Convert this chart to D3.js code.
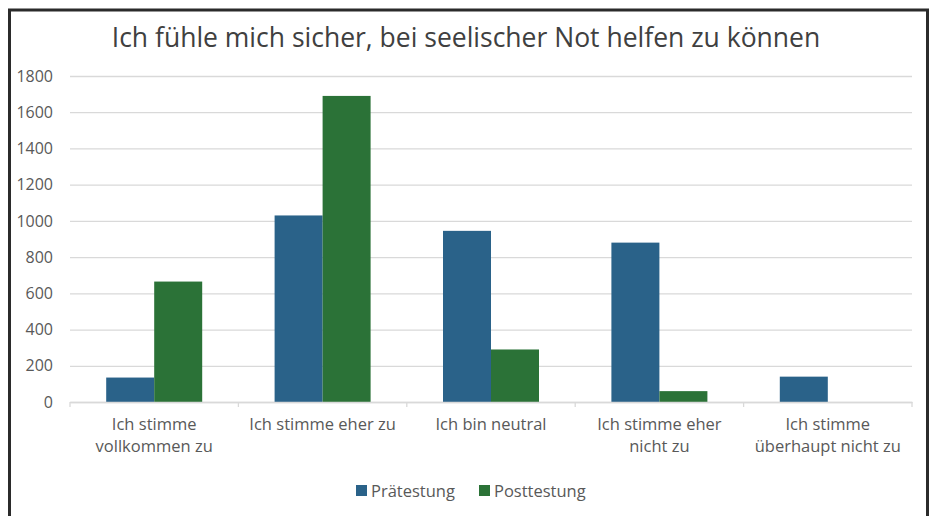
<!DOCTYPE html>
<html>
<head>
<meta charset="utf-8">
<script src="https://cdn.jsdelivr.net/npm/d3@7"></script>
<style>
  body { margin: 0; background: #fff; }
  text { font-family: "Open Sans", sans-serif; }
</style>
</head>
<body>
<div id="container"></div>
<script>
// data
const title = "Ich fühle mich sicher, bei seelischer Not helfen zu können";
const categories = [
  "Ich stimme\nvollkommen zu",
  "Ich stimme eher zu",
  "Ich bin neutral",
  "Ich stimme eher\nnicht zu",
  "Ich stimme\nüberhaupt nicht zu"
];
const seriesNames = ["Prätestung", "Posttestung"];
const praetestung = [135, 1030, 945, 880, 140];
const posttestung = [665, 1690, 290, 60, 0];
const yTicks = [0, 200, 400, 600, 800, 1000, 1200, 1400, 1600, 1800];
const colors = ["#2a6289", "#2b7237"];

// size
let w = 931, h = 516;
let padL = 70, padR = 912, padT = 76, padB = 402;

let svg = d3.select("#container").append("svg")
  .attr("width", w).attr("height", h);

// frame
svg.append("rect")
  .attr("x", 9.5).attr("y", 10)
  .attr("width", 918).attr("height", 520)
  .attr("fill", "#fff")
  .attr("stroke", "#2b2b2b")
  .attr("stroke-width", 3);

// scales
let x = d3.scaleBand().domain(categories).range([padL, padR]).paddingInner(0).paddingOuter(0);
let x1 = d3.scaleBand().domain(seriesNames).range([0, 96]);
let y = d3.scaleLinear().domain([0, 1800]).range([padB, padT]);

// grid
let yAxis = d3.axisLeft(y).tickValues(yTicks).tickFormat(d3.format("d"))
  .tickSize(-(padR - padL)).tickPadding(17);
let yg = svg.append("g").attr("transform", "translate(" + padL + ",0)").call(yAxis);
yg.select(".domain").remove();
yg.selectAll(".tick line").attr("stroke", "#d9d9d9").attr("stroke-width", 1.3);
yg.selectAll(".tick text").attr("fill", "#595959").style("font-size", "16px");

// bars
let data = categories.map((c, i) => ({ cat: c, vals: [praetestung[i], posttestung[i]] }));
let groups = svg.selectAll("g.grp").data(data).enter().append("g")
  .attr("class", "grp")
  .attr("transform", d => "translate(" + (x(d.cat) + x.bandwidth() / 2 - 48) + ",0)");
groups.selectAll("rect").data(d => d.vals.map((v, j) => ({ s: seriesNames[j], v: v, j: j })))
  .enter().append("rect")
  .attr("x", d => x1(d.s))
  .attr("y", d => y(d.v))
  .attr("width", x1.bandwidth())
  .attr("height", d => y(0) - y(d.v))
  .attr("fill", d => colors[d.j]);

// x axis
let xAxis = d3.axisBottom(x).tickSize(0).tickFormat("");
let xg = svg.append("g").attr("transform", "translate(0," + padB + ")").call(xAxis);
xg.select(".domain").attr("stroke", "#d9d9d9").attr("stroke-width", 1.3);
// tick marks at category boundaries
let bounds = categories.map(c => x(c)).concat([padR]);
xg.selectAll("line.bnd").data(bounds).enter().append("line")
  .attr("x1", d => d).attr("x2", d => d)
  .attr("y1", 0).attr("y2", 5)
  .attr("stroke", "#d9d9d9").attr("stroke-width", 1.3);
// labels
categories.forEach(c => {
  let t = svg.append("text")
    .attr("x", x(c) + x.bandwidth() / 2)
    .attr("y", 430)
    .attr("text-anchor", "middle")
    .attr("fill", "#595959")
    .style("font-size", "16.5px");
  c.split("\n").forEach((line, k) => {
    t.append("tspan").attr("x", x(c) + x.bandwidth() / 2).attr("dy", k ? 22 : 0).text(line);
  });
});

// title
svg.append("text")
  .attr("x", 466).attr("y", 47)
  .attr("text-anchor", "middle")
  .attr("fill", "#404040")
  .style("font-size", "26.5px")
  .text(title);

// legend
let legend = svg.append("g").attr("transform", "translate(356,485)");
let lx = [0, 123];
seriesNames.forEach((s, i) => {
  legend.append("rect").attr("x", lx[i]).attr("y", 0).attr("width", 11).attr("height", 11).attr("fill", colors[i]);
  legend.append("text").attr("x", lx[i] + 15).attr("y", 11.5).attr("fill", "#595959")
    .style("font-size", "16.5px").text(s);
});
</script>
</body>
</html>
